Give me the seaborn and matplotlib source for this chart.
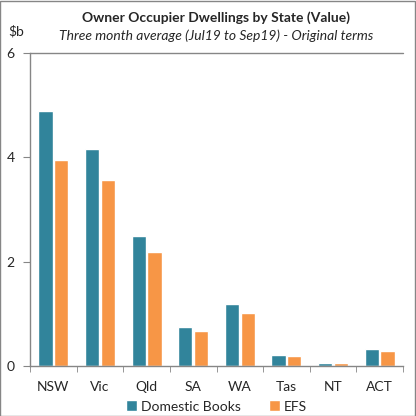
import seaborn as sns
import matplotlib.pyplot as plt
import pandas as pd

states = ["NSW", "Vic", "Qld", "SA", "WA", "Tas", "NT", "ACT"]
domestic_books = [4.89, 4.16, 2.49, 0.75, 1.19, 0.21, 0.06, 0.33]
efs = [3.94, 3.56, 2.18, 0.67, 1.02, 0.19, 0.06, 0.29]
series = ["Domestic Books", "EFS"]
colors = ["#31849B", "#F79646"]

df = pd.DataFrame({
    "state": states * 2,
    "value": domestic_books + efs,
    "series": [series[0]] * len(states) + [series[1]] * len(states),
})

sns.set_style("white")
plt.rcParams["font.family"] = ["Lato", "DejaVu Sans"]

fig = plt.figure(figsize=(4.16, 4.16), dpi=100)
ax = fig.add_axes([30 / 416, 1 - 366 / 416, 373 / 416, 313 / 416])
sns.barplot(data=df, x="state", y="value", hue="series", palette=colors,
            saturation=1, width=0.68, gap=0.1, ax=ax)

ax.set_ylim(0, 6)
ax.set_xlim(-0.5, 7.5)
ax.set_yticks([0, 2, 4, 6])
ax.set_xlabel("")
ax.set_ylabel("")
ax.axhline(6, color="#868686", lw=1, clip_on=False)
for s in ["top", "right"]:
    ax.spines[s].set_visible(False)
for s in ["left", "bottom"]:
    ax.spines[s].set_color("#868686")
    ax.spines[s].set_linewidth(1)
ax.tick_params(axis="y", length=5, color="#868686", labelsize=10, pad=6, left=True)
ax.set_xticks([i + 0.5 for i in range(-1, 8)], minor=True)
ax.tick_params(axis="x", which="minor", length=4, color="#868686", bottom=True)
ax.tick_params(axis="x", which="major", length=0, labelsize=10, pad=11)

ax.legend(loc="upper center", bbox_to_anchor=(0.5, -0.07), ncol=2, frameon=False,
          fontsize=10, handlelength=0.8, handleheight=0.8, handletextpad=0.3,
          columnspacing=2.0)

fig.text(0.52, 1 - 18 / 416, "Owner Occupier Dwellings by State (Value)",
         ha="center", va="center", fontsize=10, fontweight="bold")
fig.text(0.52, 1 - 36 / 416, "Three month average (Jul19 to Sep19) - Original terms",
         ha="center", va="center", fontsize=10, style="italic")
fig.text(8 / 416, 1 - 31 / 416, "$b", ha="left", va="center", fontsize=10)

fig.patches.append(plt.Rectangle((0.001, 0.001), 0.997, 0.997, transform=fig.transFigure,
                                 fill=False, edgecolor="#868686", lw=1))

plt.savefig("out.png", dpi=100)
